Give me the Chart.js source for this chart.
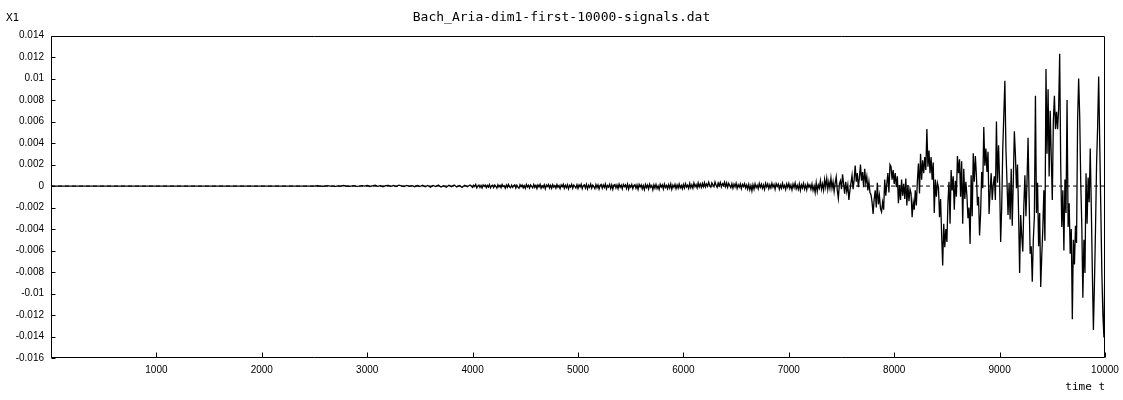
<!DOCTYPE html>
<html>
<head>
<meta charset="utf-8">
<script src="https://cdn.jsdelivr.net/npm/chart.js@4"></script>
<style>
  html, body { margin: 0; padding: 0; background: #fff; }
</style>
</head>
<body>
<canvas id="signalChart" width="1123" height="400"></canvas>
<script>
// signal values are read in units of 0.001 (milli) and scaled when the dataset is built
const chartTitle = "Bach_Aria-dim1-first-10000-signals.dat";
const yTickMin = -0.016;
const yTickMax = 0.014;
const yTickStep = 0.002;
const xTickMax = 10000;
const xTickStep = 1000;

// silent start: t = 0 .. 2500
const leadTimes = [0, 2475];
const leadValues = [0, 0];

// faint part, one sample every 25 steps from t = 2500
const earlyStart = 2500;
const earlyStep = 25;
const earlyValues = [
  0, 0.03, 0, -0.02, 0, 0.04, 0, 0, -0.03, 0.02, 0, 0.05, 0, -0.02, 0, 0.03, -0.03, 0, 0.04, 0,
  0.05, -0.04, 0.02, 0.07, -0.03, 0.04, -0.06, 0.03, 0.06, -0.02, 0.05, -0.05, 0.08, 0.01, -0.04, 0.06, -0.03, 0.04, -0.06, 0.05,
  -0.04, 0.08, -0.07, 0.05, -0.1, 0.06, -0.05, 0.09, -0.08, 0.04, -0.11, 0.07, -0.06, 0.1, -0.09, 0.05, -0.12, 0.08, -0.07, 0.1
];

// quiet part, one sample every 10 steps from t = 4000
const quietStart = 4000;
const quietStep = 10;
const quietValues = [
  -0.12, 0.08, -0.05, 0.14, -0.16, 0.02, 0.1, -0.13, 0.05, -0.18, 0.11, -0.04, 0.09, -0.15, 0.06, -0.1, 0.13, -0.17, 0.03, 0.08,
  -0.14, 0.1, -0.02, -0.19, 0.12, -0.08, 0.06, -0.16, 0.14, -0.05, 0.03, -0.2, 0.1, -0.11, 0.15, -0.07, -0.15, 0.09, -0.12, 0.04,
  0.12, -0.18, 0.07, -0.1, -0.21, 0.13, -0.06, 0.1, -0.17, 0.04, -0.22, 0.15, -0.09, 0.08, -0.19, 0.11, -0.03, -0.16, 0.14, -0.12,
  0.06, -0.23, 0.1, -0.08, 0.16, -0.2, 0.02, -0.14, 0.12, -0.25, 0.09, -0.05, 0.15, -0.18, 0.07, -0.22, 0.13, -0.1, 0.04, -0.2,
  0.14, -0.12, 0.05, -0.24, 0.11, -0.07, 0.17, -0.2, 0.08, -0.15, 0.12, -0.26, 0.06, -0.1, 0.16, -0.21, 0.09, -0.04, -0.18, 0.13,
  -0.22, 0.1, -0.08, 0.17, -0.25, 0.04, 0.12, -0.19, 0.15, -0.27, 0.07, -0.12, 0.18, -0.2, 0.09, -0.05, -0.24, 0.14, -0.16, 0.11,
  -0.28, 0.06, 0.15, -0.21, 0.1, -0.13, 0.19, -0.26, 0.05, -0.09, 0.16, -0.23, 0.12, -0.3, 0.08, 0.14, -0.18, 0.1, -0.25, 0.17,
  -0.12, 0.09, -0.27, 0.15, -0.06, 0.11, -0.22, 0.18, -0.29, 0.07, -0.1, 0.16, -0.24, 0.04, 0.13, -0.2, 0.1, -0.3, 0.15, -0.08,
  0.12, -0.26, 0.05, -0.33, 0.14, -0.15, 0.09, -0.28, 0.17, -0.11, 0.06, -0.35, 0.12, -0.2, 0.15, -0.24, 0.03, -0.3, 0.16, -0.09,
  0.11, -0.27, 0.18, -0.14, 0.05, -0.25, 0.13, -0.19, 0.2, -0.3, 0.08, -0.12, 0.17, -0.24, 0.1, -0.2, 0.19, -0.16, 0.06, -0.26,
  0.15, -0.18, 0.22, -0.1, 0.08, -0.22, 0.25, -0.15, 0.12, -0.2, 0.28, -0.06, 0.14, -0.17, 0.3, -0.09, 0.2, -0.12, 0.26, -0.05,
  0.32, -0.08, 0.2, -0.02, 0.35, 0.05, -0.1, 0.3, 0.12, -0.06, 0.38, 0.08, -0.12, 0.28, 0.02, 0.34, -0.08, 0.22, 0.06, 0.36,
  -0.05, 0.3, -0.12, 0.25, 0.04, -0.15, 0.22, -0.2, 0.18, -0.08, 0.26, -0.22, 0.12, -0.1, 0.2, -0.25, 0.15, -0.05, 0.22, -0.18,
  0.1, -0.28, 0.16, -0.35, 0.05, -0.45, 0.12, -0.3, 0.2, -0.15, 0.08, -0.26, 0.24, -0.12, 0.18, -0.22, 0.1, -0.3, 0.25, -0.08,
  0.2, -0.25, 0.12, -0.18, 0.27, -0.1, 0.15, -0.3, 0.22, -0.05, 0.18, -0.28, 0.1, -0.2, 0.26, -0.15, 0.08, -0.32, 0.2, -0.12,
  0.24, -0.22, 0.1, -0.35, 0.18, -0.15, 0.28, -0.25, 0.06, -0.3, 0.2, -0.4, 0.12, -0.18, 0.25, -0.28, 0.08, -0.35, 0.22, -0.1
];

// loud part, one sample every 10 steps from t = 7200 to 10000
const activeStart = 7200;
const activeStep = 10;
const activeValues = [
  0.1, -0.3, 0.2, -0.4, 0.0, -0.6, 0.3, -0.5, 0.1, -0.2, 0.5, -0.3, 0.2, -0.4, 0.6, -0.1, 0.7, -0.3, 0.4, -0.2,
  0.75, -0.2, 0.4, -0.5, 0.3, 0.85, -0.4, -1.15, 0.2, 0.5, -0.3, 1.1, 0.2, -0.7, 0.4, -0.5, 0.1, -1.3, -0.4,
  0.3, 1.0, -0.3, 0.6, 1.9, 0.4, 1.2, -0.1, 0.8, 2.0, 0.5, 1.3, -0.1, 1.6, 0.3, 0.9, -0.4, 0.4, -0.6,
  -0.8, -1.5, -2.6, -1.2, -0.4, -2.0, 0.3, -1.7, -0.9, -2.1, -2.4, -1.5, -2.2, 0.6, -0.9, 0.2, 1.2, -0.6, 2.0,
  1.8, 0.6, 1.5, 0.2, 1.2, -0.1, 0.9, -1.6, 0.1, -1.3, 0.6, -0.9, 0.2, -1.2, 0.7, -1.8, 0.1, -1.4, -0.3,
  -0.7, -2.9, -1.5, -2.2, -0.4, -1.8, 0.5, 2.1, -0.7, 3.0, 0.6, 2.4, 1.2, 2.7, 1.5, 5.3, 1.8, 3.3, 1.2,
  2.7, 0.6, 2.2, -2.5, 0.6, -1.0, 0.3, -0.1, -2.9, -1.2, -4.5, -7.4, -3.5, -5.7, -4.0, -5.2, -1.5, 0.4, -3.5,
  1.5, -0.4, 0.9, -2.2, 0.5, -1.0, 2.8, 1.2, 2.5, -1.0, 2.3, -3.5, 1.6, -1.2, 0.4, -0.9, -3.0, -2.0, -5.4,
  1.0, -2.8, 3.05, 0.4, 2.8, 1.0, -1.8, -1.0, -4.6, -2.5, 1.3, -0.2, 5.5, 1.9, 3.5, 1.3, 3.2, -2.6, -0.5,
  1.2, -1.3, 0.1, 0.9, -1.3, 6.0, 0.3, 3.8, 0.5, -5.2, -2.0, 3.5, 6.6, 9.8, 3.5, 0.4, -2.7, 0.3, -3.1,
  1.6, -3.7, 0.5, 5.1, 2.9, -0.2, 2.0, -2.5, -8.1, -2.7, -4.6, -6.1, -1.8, 1.0, -2.8, 0.4, 4.5, -1.1, -6.3,
  -5.6, -8.9, -5.0, -2.8, 8.4, -2.5, 0.3, -5.6, -2.5, -9.4, -6.5, -4.0, -0.4, -5.1, 10.9, 3.0, 9.0, 0.9, 7.0,
  2.75, -1.3, 6.1, 8.4, 5.3, 6.9, 5.3, 7.2, 12.3, 1.8, -3.8, -0.4, -6.0, 0.6, -2.5, 8.0, -3.8, -1.6, -6.3,
  -4.0, -12.4, -5.0, -7.3, -3.7, -5.3, 6.1, 10.0, 6.5, 0.3, -3.7, -10.4, -5.0, -8.1, 1.2, -3.5, 0.8, -1.5, 3.5,
  -2.0, -8.0, -13.4, -9.0, -4.0, 2.0, 5.5, 10.2, 4.0, -2.0, -8.0, -12.0, -14.1, -6.2
];

const signal = [];
leadTimes.forEach((t, i) => signal.push({ x: t, y: leadValues[i] / 1000 }));
earlyValues.forEach((v, i) => signal.push({ x: earlyStart + i * earlyStep, y: v / 1000 }));
quietValues.forEach((v, i) => signal.push({ x: quietStart + i * quietStep, y: v / 1000 }));
activeValues.forEach((v, i) => signal.push({ x: activeStart + i * activeStep, y: v / 1000 }));

const tickFont = { family: "'Liberation Sans', sans-serif", size: 10 };
const monoFamily = "'DejaVu Sans Mono', 'Liberation Mono', monospace";

// box round the plot, inward tick marks and the "X1" label
const frameAndTicks = {
  id: "frameAndTicks",
  afterDraw(chart) {
    const { ctx, chartArea: a, scales } = chart;
    const left = Math.round(a.left) + 0.5;
    const right = Math.round(a.right) - 0.5;
    const top = Math.round(a.top) + 0.5;
    const bottom = Math.round(a.bottom) - 0.5;
    ctx.save();
    ctx.strokeStyle = "#000";
    ctx.lineWidth = 1;
    ctx.beginPath();
    ctx.rect(left, top, right - left, bottom - top);
    scales.y.ticks.forEach(tk => {
      const y = Math.round(scales.y.getPixelForValue(tk.value)) + 0.5;
      ctx.moveTo(left, y);
      ctx.lineTo(left + 4, y);
    });
    scales.x.ticks.forEach(tk => {
      const x = Math.round(scales.x.getPixelForValue(tk.value)) + 0.5;
      ctx.moveTo(x, bottom);
      ctx.lineTo(x, bottom - 5);
    });
    ctx.stroke();
    ctx.fillStyle = "#000";
    ctx.font = "11px " + monoFamily;
    ctx.textAlign = "left";
    ctx.textBaseline = "middle";
    ctx.fillText("X1", 6, 18);
    ctx.restore();
  }
};

const ctx = document.getElementById("signalChart").getContext("2d");
new Chart(ctx, {
  type: "line",
  data: {
    datasets: [{
      label: "X1",
      data: signal,
      borderColor: "#000",
      borderWidth: 1.3,
      pointRadius: 0,
      tension: 0,
      fill: false
    }, {
      label: "zero",
      data: [{ x: 0, y: 0 }, { x: xTickMax, y: 0 }],
      borderColor: "#000",
      borderWidth: 1,
      borderDash: [4, 3],
      pointRadius: 0,
      fill: false
    }]
  },
  options: {
    responsive: false,
    animation: false,
    layout: { padding: 0 },
    plugins: {
      legend: { display: false },
      tooltip: { enabled: false },
      title: {
        display: true,
        text: chartTitle,
        color: "#000",
        font: { family: monoFamily, size: 13, weight: "normal" },
        padding: { top: 10, bottom: 10 }
      }
    },
    scales: {
      x: {
        type: "linear",
        min: 0,
        max: xTickMax,
        grid: { display: false, drawTicks: false },
        border: { display: false },
        ticks: {
          stepSize: xTickStep,
          color: "#000",
          font: tickFont,
          padding: 6,
          maxRotation: 0,
          callback: v => (v === 0 ? "" : String(v))
        },
        title: {
          display: true,
          text: "time t",
          align: "end",
          color: "#000",
          font: { family: monoFamily, size: 11 },
          padding: { top: 0, bottom: 6 }
        },
        afterFit: scale => {
          scale.height = 42;
          scale.paddingLeft = 0;
          scale.paddingRight = 0;
        }
      },
      y: {
        min: yTickMin,
        max: yTickMax,
        grid: { display: false, drawTicks: false },
        border: { display: false },
        ticks: {
          stepSize: yTickStep,
          color: "#000",
          font: tickFont,
          padding: 7,
          callback: v => String(+v.toFixed(3))
        },
        afterFit: scale => { scale.width = 51; }
      },
      // empty right-hand margin so the plot ends at the same place as the reference
      yMargin: {
        position: "right",
        display: true,
        grid: { display: false, drawTicks: false },
        border: { display: false },
        ticks: { display: false },
        afterFit: scale => {
          scale.width = 18;
          scale.paddingTop = 0;
          scale.paddingBottom = 0;
        }
      }
    }
  },
  plugins: [frameAndTicks]
});
</script>
</body>
</html>
